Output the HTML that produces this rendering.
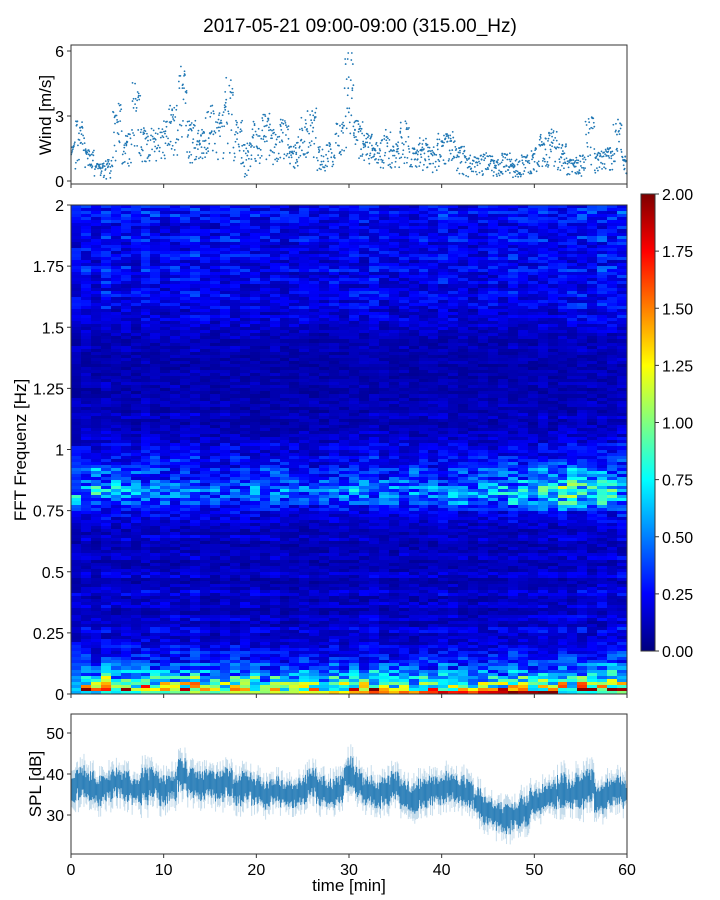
<!DOCTYPE html>
<html><head><meta charset="utf-8">
<style>
html,body{margin:0;padding:0;background:#fff;}
#wrap{position:relative;width:720px;height:900px;font-family:"Liberation Sans","DejaVu Sans",sans-serif;}
canvas{position:absolute;image-rendering:pixelated;}
svg{position:absolute;left:0;top:0;}
text{font-family:"Liberation Sans","DejaVu Sans",sans-serif;fill:#000;}
</style></head>
<body>
<div id="wrap">
<canvas id="heat" width="556" height="489" style="left:71px;top:205px;width:556px;height:489px;"></canvas>
<canvas id="cbar" width="14" height="457" style="left:641px;top:194px;width:14px;height:457px;"></canvas>
<svg id="svg" width="720" height="900"></svg>
</div>
<script>
// ---- data ----
const minutes = [0,1,2,3,4,5,6,7,8,9,10,11,12,13,14,15,16,17,18,19,20,21,22,23,24,25,26,27,28,29,30,31,32,33,34,35,36,37,38,39,40,41,42,43,44,45,46,47,48,49,50,51,52,53,54,55,56,57,58,59,60];
const windMin = [0.5,0.8,0.6,0.2,0.1,0.8,0.6,1.2,0.9,0.9,1.0,1.2,1.3,0.8,0.6,1.0,1.0,1.3,0.8,0.2,0.8,1.0,0.6,0.8,0.4,1.0,1.0,0.4,0.4,1.2,1.5,0.9,0.8,0.6,0.6,0.5,0.8,0.5,0.5,0.4,0.6,0.8,0.3,0.2,0.2,0.3,0.2,0.3,0.1,0.2,0.3,0.6,0.6,0.4,0.2,0.2,0.6,0.3,0.4,0.8,0.3];
const windMax = [1.8,2.8,1.5,0.8,1.0,3.6,2.2,4.6,2.6,2.5,2.8,3.5,5.5,2.8,2.4,3.8,3.2,4.8,2.8,1.8,2.8,3.2,2.4,2.9,1.8,3.0,3.4,1.6,1.8,2.8,6.0,2.8,2.2,1.8,2.4,1.8,2.8,1.6,2.0,1.6,2.2,2.4,1.6,1.2,1.2,1.3,1.0,1.3,1.0,1.2,1.6,2.2,2.4,1.8,1.0,1.2,3.1,1.4,1.6,2.9,1.2];
const splMid = [36,38,37,36,37,38,37,36,37,38,36,37,40,38,37,38,37,38,36,37,36,35,36,35,35,36,38,36,35,36,40,38,36,35,36,37,35,34,35,36,36,37,36,35,33,31,30,29,30,31,33,34,35,36,35,36,37,34,35,36,35];
const splSpread = [5,6,5,5,5,5,5,5,6,5,5,5,6,5,5,5,5,5,5,5,5,5,5,5,5,5,5,5,5,5,6,5,5,5,5,5,5,5,5,5,5,5,5,5,5,5,5,5,5,5,5,5,5,6,5,6,6,5,5,5,5];
const freqProfile = [1.3,0.95,0.7,0.5,0.38,0.3,0.26,0.22,0.18,0.14,0.2,0.12,0.17,0.1,0.16,0.11,0.18,0.13,0.09,0.16,0.12,0.1,0.15,0.11,0.1,0.16,0.12,0.14,0.18,0.2,0.25,0.38,0.45,0.48,0.4,0.3,0.34,0.24,0.26,0.2,0.2,0.15,0.14,0.12,0.1,0.14,0.09,0.12,0.1,0.08,0.11,0.09,0.1,0.08,0.1,0.09,0.12,0.1,0.12,0.14,0.16,0.2,0.16,0.22,0.2,0.24,0.18,0.23,0.2,0.26,0.19,0.24,0.22,0.2,0.26,0.22,0.2,0.25,0.27,0.24];
const timeGain = [1.0,1.1,0.9,1.2,1.0,1.1,1.0,1.2,1.1,1.0,1.1,1.0,1.2,1.0,0.9,1.0,1.1,1.0,1.0,0.9,1.0,0.9,0.9,1.0,0.9,0.9,1.0,0.9,1.0,1.0,1.1,1.0,0.9,1.0,0.9,1.0,1.0,1.1,1.0,1.0,0.9,1.0,1.0,1.0,1.1,1.0,1.0,1.1,1.0,1.1,1.1,1.2,1.1,1.2,1.2,1.3];
const bandGain = [1.3,1.1,1.4,1.2,1.3,1.2,1.1,1.0,1.1,1.0,1.0,0.9,0.9,0.8,0.9,0.8,0.8,0.9,1.0,1.0,1.1,1.0,0.9,0.9,0.8,0.9,1.0,1.0,1.1,1.0,0.9,1.0,1.1,1.0,1.1,1.0,1.0,1.0,1.1,1.2,1.1,1.2,1.2,1.3,1.4,1.3,1.4,1.5,1.6,1.7,1.8,1.9,1.8,1.6,1.4,1.3];
const xTicks = [0,10,20,30,40,50,60];
const windTicks = [0,3,6];
const freqTicks = [0,0.25,0.5,0.75,1,1.25,1.5,1.75,2];
const splTicks = [30,40,50];
const cbTicks = [0,0.25,0.5,0.75,1,1.25,1.5,1.75,2];

// ---- scales ----
const X0=71, X1=627;
const xs = t => X0 + (t/60)*(X1-X0);
const yWind = v => 181 - v*(181-51)/6;
const yFreq = f => 694 - f*(694-205)/2;
const ySpl = d => 815 - (d-30)*(815-733)/20;
const yCb = v => 651 - v*(651-194)/2;

function jet(v){
  v=Math.max(0,Math.min(1,v));
  const r=Math.max(0,Math.min(1,1.5-Math.abs(4*v-3)));
  const g=Math.max(0,Math.min(1,1.5-Math.abs(4*v-2)));
  const b=Math.max(0,Math.min(1,1.5-Math.abs(4*v-1)));
  return `rgb(${Math.round(r*255)},${Math.round(g*255)},${Math.round(b*255)})`;
}
// fixed rendering texture (sub-bin striping), not data
function tex(a,b){const h=((a*73856093)^(b*19349663))>>>0;return (h%97)/97;}

// heatmap
const hc=document.getElementById('heat').getContext('2d');
hc.imageSmoothingEnabled=false;
const nT=timeGain.length, nF=freqProfile.length;
for(let i=0;i<nT;i++){
  const xa=Math.round(xs(i*60/nT)-X0), xb=Math.round(xs((i+1)*60/nT)-X0);
  for(let j=0;j<nF;j++){
    let v=freqProfile[j]*timeGain[i];
    if(j>=30&&j<=37) v=freqProfile[j]*bandGain[i];
    for(let s=0;s<2;s++){
      const f0=(j+s/2)*2/nF, f1=(j+(s+1)/2)*2/nF;
      const ya=Math.round(yFreq(f1)-205), yb=Math.round(yFreq(f0)-205);
      const m=0.45+1.1*tex(i,j*2+s);
      hc.fillStyle=jet(v*m/2);
      hc.fillRect(xa,ya,xb-xa,Math.max(1,yb-ya));
    }
  }
}
// colorbar
const cc=document.getElementById('cbar').getContext('2d');
for(let y=0;y<457;y++){cc.fillStyle=jet(1-y/456);cc.fillRect(0,y,14,1);}

const svgRoot=document.getElementById('svg');
const NS='http://www.w3.org/2000/svg';
function el(tag,attrs,parent){const e=document.createElementNS(NS,tag);for(const k in attrs)e.setAttribute(k,attrs[k]);(parent||svgRoot).appendChild(e);return e;}
function txt(s,x,y,anchor,size,parent,rot){const t=el('text',{x:x,y:y,'text-anchor':anchor,'font-size':size},parent);if(rot)t.setAttribute('transform',`rotate(-90 ${x} ${y})`);t.textContent=s;return t;}

// title
const title=txt('2017-05-21 09:00-09:00 (315.00_Hz)',360,32,'middle',19);



// wind scatter
const gw=el('g',{});


for(let i=0;i<minutes.length;i++){
  const lo=windMin[i], hi=windMax[i];
  for(let c=0;c<18;c++){
    const t=minutes[i]-0.5+c/18+0.028; if(t<0||t>60) continue;
    const u=tex(i,c), w=tex(c+31,i+7);
    const v=lo+(hi-lo)*u;
    const d=el('circle',{cx:xs(t),cy:yWind(v),r:0.9,fill:'#1f77b4'},gw);
    
    
    if(w>0.6){
      const d2=el('circle',{cx:xs(t),cy:yWind(lo+(hi-lo)*w),r:0.9,fill:'#1f77b4'},gw);
      
      
    }
  }
}

// SPL
const gs=el('g',{});


for(let i=0;i<minutes.length;i++){
  for(let c=0;c<10;c++){
    const t=minutes[i]-0.5+c/10; if(t<0||t>60) continue;
    const k1=0.4+0.9*tex(i,c+50), k2=0.4+0.9*tex(c+90,i);
    const lo=splMid[i]-splSpread[i]*k1, hi=splMid[i]+splSpread[i]*k2;
    el('line',{x1:xs(t),x2:xs(t),y1:ySpl(hi),y2:ySpl(lo),stroke:'#1f77b4','stroke-width':1,'stroke-opacity':0.25},gs);
    el('line',{x1:xs(t),x2:xs(t),y1:ySpl(splMid[i]+splSpread[i]*k2*0.6),y2:ySpl(splMid[i]-splSpread[i]*k1*0.6),stroke:'#1f77b4','stroke-width':1,'stroke-opacity':0.9},gs);
  }
}

// axes frames
function frame(name,y0,y1,x0,x1){const r=el('rect',{x:x0,y:y0,width:x1-x0,height:y1-y0,fill:'none',stroke:'#333','stroke-width':1});}
frame('wind-axes',45,184,X0,X1);
frame('spectrogram-axes',205,694,X0,X1);
frame('spl-axes',714,854,X0,X1);
frame('colorbar-frame',194,651,641,655);

for(const t of xTicks){
  for(const [ya,yb] of [[184,188],[694,698],[854,858]]) el('line',{x1:xs(t),x2:xs(t),y1:ya,y2:yb,stroke:'#333'});
  const l=txt(String(t),xs(t),875,'middle',16);
  
  
}
for(const v of windTicks){el('line',{x1:X0-4,x2:X0,y1:yWind(v),y2:yWind(v),stroke:'#333'});const l=txt(String(v),X0-7,yWind(v)+6,'end',16);}
for(const v of freqTicks){el('line',{x1:X0-4,x2:X0,y1:yFreq(v),y2:yFreq(v),stroke:'#333'});const l=txt(String(v),X0-7,yFreq(v)+6,'end',16);}
for(const v of splTicks){el('line',{x1:X0-4,x2:X0,y1:ySpl(v),y2:ySpl(v),stroke:'#333'});const l=txt(String(v),X0-7,ySpl(v)+6,'end',16);}
for(const v of cbTicks){el('line',{x1:655,x2:659,y1:yCb(v),y2:yCb(v),stroke:'#333'});const l=txt(v.toFixed(2),662,yCb(v)+6,'start',16);}

const xl=txt('time [min]',349,891,'middle',17);
const wl=txt('Wind [m/s]',51,115,'middle',17,null,true);
const fl=txt('FFT Frequenz [Hz]',26,450,'middle',17,null,true);
const sl=txt('SPL [dB]',41,784,'middle',17,null,true);
</script>
</body></html>
